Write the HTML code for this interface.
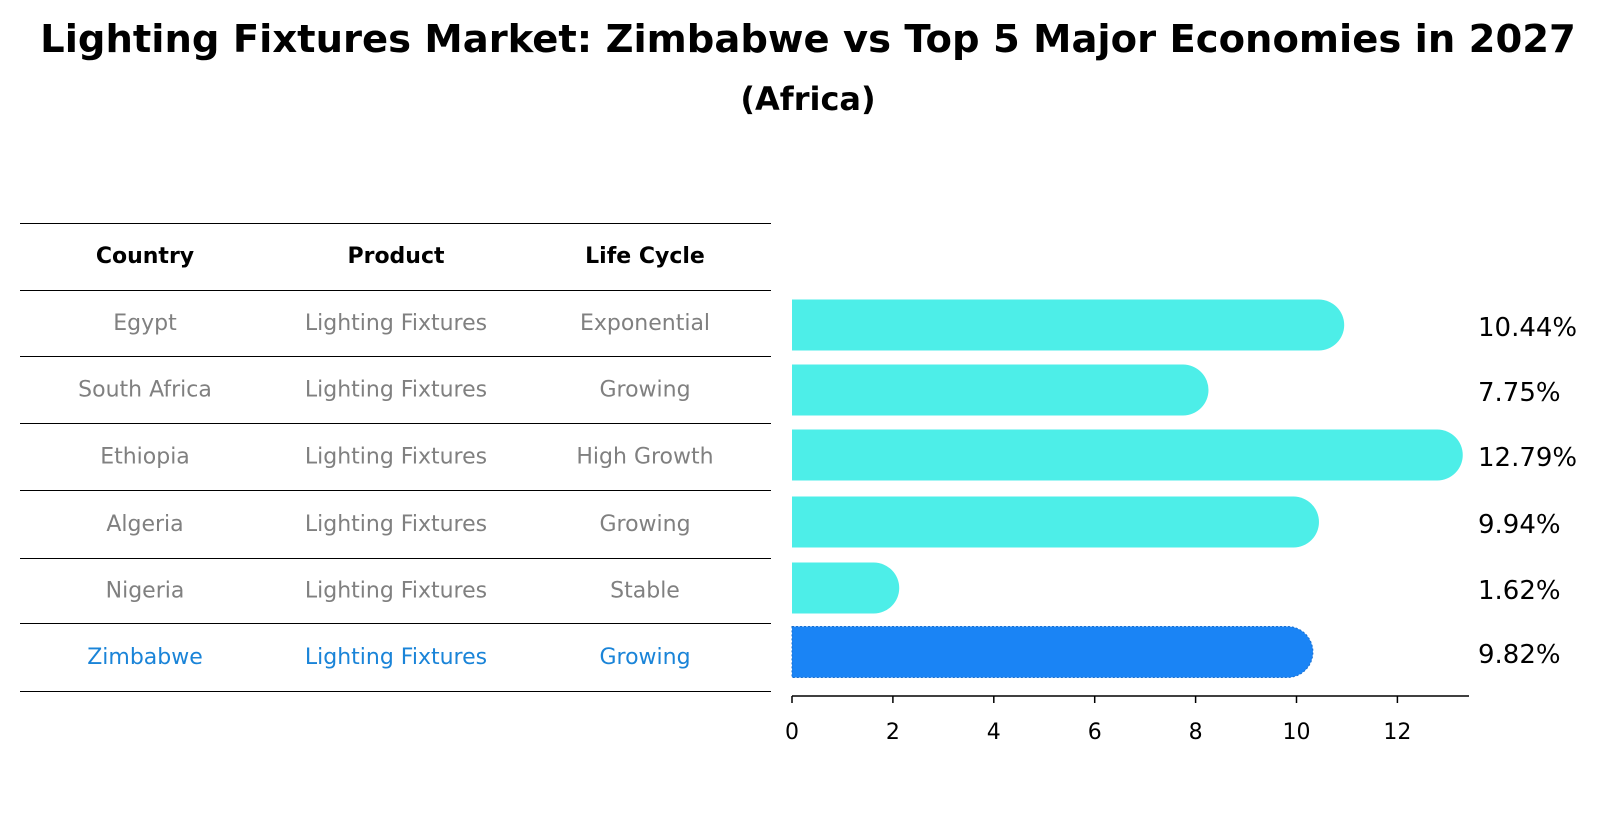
<!DOCTYPE html>
<html><head><meta charset="utf-8"><style>
body{margin:0;background:#fff;}
svg{display:block;font-family:"DejaVu Sans","Liberation Sans",sans-serif;}
</style></head><body>
<svg id="c" width="1604" height="823" viewBox="0 0 1604 823" xmlns="http://www.w3.org/2000/svg">
<text x="808" y="52" text-anchor="middle" font-size="38.5" font-weight="bold">Lighting Fixtures Market: Zimbabwe vs Top 5 Major Economies in 2027</text>
<text x="808" y="110" text-anchor="middle" font-size="32" font-weight="bold">(Africa)</text>
<g id="table"></g>
<g id="bars"></g>
</svg>
<script>
const countries=["Egypt","South Africa","Ethiopia","Algeria","Nigeria","Zimbabwe"];
const products=["Lighting Fixtures","Lighting Fixtures","Lighting Fixtures","Lighting Fixtures","Lighting Fixtures","Lighting Fixtures"];
const lifeCycles=["Exponential","Growing","High Growth","Growing","Stable","Growing"];
const values=[10.44,7.75,12.79,9.94,1.62,9.82];
const ticks=[0,2,4,6,8,10,12];
const NS="http://www.w3.org/2000/svg";
function mk(tag,attrs,parent,text){const e=document.createElementNS(NS,tag);for(const k in attrs)e.setAttribute(k,attrs[k]);if(text!==undefined)e.textContent=text;parent.appendChild(e);return e;}
const tbl=document.getElementById('table');
const lineYs=[223,290,356,422.5,490,557.5,623,690.5];
lineYs.forEach((y,i)=>{const l=mk('line',{x1:20,x2:771,y1:Math.round(y)+0.5,y2:Math.round(y)+0.5,stroke:'#000','stroke-width':1,'shape-rendering':'crispEdges'},tbl);

});
const cx=[145,396,645];
["Country","Product","Life Cycle"].forEach((h,i)=>{const t=mk('text',{x:cx[i],y:263,'text-anchor':'middle','font-size':22,'font-weight':'bold'},tbl,h);

});
countries.forEach((c,i)=>{const y=(lineYs[i+1]+lineYs[i+2])/2+7;const col=c==="Zimbabwe"?"#1a84d8":"#808080";
[c,products[i],lifeCycles[i]].forEach((v,j)=>{const t=mk('text',{x:cx[j],y:y,'text-anchor':'middle','font-size':22,fill:col},tbl,v);

});});
const g=document.getElementById('bars');
const x0=792,ppu=50.45;const X=v=>x0+v*ppu;
const centers=[325,390,455,522,588,652];const bh=51;
values.forEach((v,i)=>{const last=i===values.length-1;const col=last?"#1a84f5":"#4deee8";
const w=X(v)-x0;const r=bh/2;const y=centers[i]-r;
const p=mk('path',{d:`M${x0},${y} H${x0+w} A${r},${r} 0 0 1 ${x0+w},${y+bh} H${x0} Z`,fill:col},g);
if(last){p.setAttribute('stroke','#1a6fd0');p.setAttribute('stroke-dasharray','2 2');p.setAttribute('stroke-width','1');}


const t=mk('text',{x:1478,y:centers[i]+11,'font-size':26},g,v.toFixed(2)+'%');

});
const ax=mk('line',{x1:x0,x2:1469,y1:696,y2:696,stroke:'#000','stroke-width':1.5},g);


ticks.forEach(tv=>{const tk=mk('line',{x1:X(tv),x2:X(tv),y1:696,y2:703,stroke:'#000','stroke-width':1.5},g);


const tl=mk('text',{x:X(tv),y:739,'text-anchor':'middle','font-size':22},g,String(tv));

});
</script>
</body></html>
